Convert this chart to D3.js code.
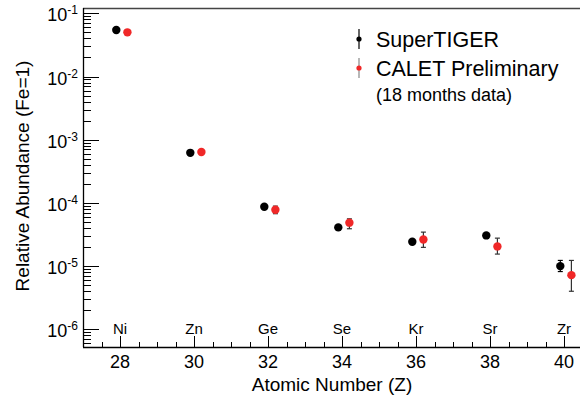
<!DOCTYPE html>
<html><head><meta charset="utf-8">
<script src="https://cdn.jsdelivr.net/npm/d3@7"></script>
<style>
html,body{margin:0;padding:0;background:#fff;}
svg{display:block;font-family:"Liberation Sans",Arial,Helvetica,sans-serif;}
</style></head>
<body><svg id="c" width="580" height="398"></svg>
<script>
// ---- data ----
const elements = ["Ni","Zn","Ge","Se","Kr","Sr","Zr"];
const atomicZ = [28,30,32,34,36,38,40];
const superTiger = [5.45e-2, 6.2e-4, 8.7e-5, 4.1e-5, 2.43e-5, 3.06e-5, 1.0e-5];
const superTigerLo = [null, null, null, null, null, null, 8.2e-6];
const superTigerHi = [null, null, null, null, null, null, 1.23e-5];
const calet = [5.0e-2, 6.4e-4, 7.8e-5, 4.87e-5, 2.64e-5, 2.05e-5, 7.2e-6];
const caletLo = [null, null, 6.75e-5, 3.9e-5, 1.98e-5, 1.55e-5, 4.0e-6];
const caletHi = [null, null, 8.9e-5, 5.6e-5, 3.45e-5, 2.77e-5, 1.23e-5];
const xTickValues = [28,30,32,34,36,38,40];
const yTickExponents = [-1,-2,-3,-4,-5,-6];

// ---- layout ----
const svg = d3.select("#c");
const L = 83, R = 582.5, T = 8, B = 347;
const x = d3.scaleLinear().domain([27, 40.5]).range([L, R]);
const y = d3.scaleLog().domain([5.25e-7, 0.1213]).range([B, T]);
const offBlack = -0.1, offRed = 0.2;

// frame
svg.append("line").attr("x1",L).attr("x2",580).attr("y1",T+0.5).attr("y2",T+0.5).attr("stroke","#444").attr("stroke-width",1.3);
svg.append("line").attr("x1",L+0.5).attr("x2",L+0.5).attr("y1",T).attr("y2",B).attr("stroke","#000").attr("stroke-width",1.3);
svg.append("line").attr("x1",L).attr("x2",580).attr("y1",B+0.5).attr("y2",B+0.5).attr("stroke","#000").attr("stroke-width",1.3);

// y ticks (log)
const yMinor = [];
for (let e = -7; e <= -1; e++) for (let m = 2; m <= 9; m++) {
  const v = m * Math.pow(10, e);
  if (v >= y.domain()[0] && v <= y.domain()[1]) yMinor.push(v);
}
const yMajor = yTickExponents.map(e => Math.pow(10, e));
const gy = svg.append("g");
gy.selectAll("line.mi").data(yMinor).enter().append("line")
  .attr("x1",L).attr("x2",L+8).attr("y1",d=>Math.round(y(d))+0.5).attr("y2",d=>Math.round(y(d))+0.5)
  .attr("stroke","#000").attr("stroke-width",1);
gy.selectAll("line.ma").data(yMajor).enter().append("line")
  .attr("x1",L).attr("x2",L+16).attr("y1",d=>Math.round(y(d))+0.5).attr("y2",d=>Math.round(y(d))+0.5)
  .attr("stroke","#000").attr("stroke-width",1);
const yl = gy.selectAll("text.yl").data(yTickExponents).enter().append("text")
  .attr("x",78).attr("y",d=>y(Math.pow(10,d))+8)
  .attr("text-anchor","end").attr("font-size",18).attr("fill","#000");
yl.append("tspan").text("10");
yl.append("tspan").attr("dy",-7).attr("font-size",12).text(d=>"-"+(-d));

// x ticks
const xMinor = d3.range(27, 40.51, 0.5);
const gx = svg.append("g");
gx.selectAll("line.mi").data(xMinor).enter().append("line")
  .attr("x1",d=>Math.round(x(d))+0.5).attr("x2",d=>Math.round(x(d))+0.5).attr("y1",B).attr("y2",B-5)
  .attr("stroke","#000").attr("stroke-width",1);
gx.selectAll("line.ma").data(xTickValues).enter().append("line")
  .attr("x1",d=>Math.round(x(d))+0.5).attr("x2",d=>Math.round(x(d))+0.5).attr("y1",B).attr("y2",B-11)
  .attr("stroke","#000").attr("stroke-width",1);
gx.selectAll("text.xl").data(xTickValues).enter().append("text")
  .attr("x",d=>x(d)).attr("y",368).attr("text-anchor","middle").attr("font-size",18).text(d=>d);

// element labels
svg.selectAll("text.el").data(elements).enter().append("text")
  .attr("x",(d,i)=>x(atomicZ[i])).attr("y",334).attr("text-anchor","middle").attr("font-size",15).text(d=>d);

// axis titles
svg.append("text").attr("x",332).attr("y",391).attr("text-anchor","middle").attr("font-size",19)
  .text("Atomic Number (Z)");
svg.append("text").attr("transform","translate(29,176) rotate(-90)").attr("text-anchor","middle").attr("font-size",19)
  .text("Relative Abundance (Fe=1)");

// series drawing
function series(vals, lo, hi, off, color, barColor) {
  const g = svg.append("g");
  const idx = d3.range(vals.length);
  const eb = idx.filter(i => lo[i] != null);
  g.selectAll("line.v").data(eb).enter().append("line")
    .attr("x1",i=>x(atomicZ[i]+off)).attr("x2",i=>x(atomicZ[i]+off))
    .attr("y1",i=>y(lo[i])).attr("y2",i=>y(hi[i])).attr("stroke",barColor).attr("stroke-width",1.2);
  [lo, hi].forEach(arr => {
    g.selectAll(null).data(eb).enter().append("line")
      .attr("x1",i=>x(atomicZ[i]+off)-2.5).attr("x2",i=>x(atomicZ[i]+off)+2.5)
      .attr("y1",i=>y(arr[i])).attr("y2",i=>y(arr[i])).attr("stroke",barColor).attr("stroke-width",1.2);
  });
  g.selectAll("circle").data(idx).enter().append("circle")
    .attr("cx",i=>x(atomicZ[i]+off)).attr("cy",i=>y(vals[i])).attr("r",4.2).attr("fill",color);
}
series(superTiger, superTigerLo, superTigerHi, offBlack, "#000", "#000");
series(calet, caletLo, caletHi, offRed, "#f02828", "#333");

// legend
const leg = svg.append("g");
const legItems = [{label:"SuperTIGER", color:"#000", line:"#000", y:39},
                  {label:"CALET Preliminary", color:"#f02828", line:"#888", y:68}];
legItems.forEach(it => {
  leg.append("line").attr("x1",359).attr("x2",359).attr("y1",it.y-10).attr("y2",it.y+10).attr("stroke",it.line).attr("stroke-width",1.2);
  leg.append("circle").attr("cx",359).attr("cy",it.y).attr("r",2.6).attr("fill",it.color);
  leg.append("text").attr("x",376).attr("y",it.y+7.5).attr("font-size",21.5).text(it.label);
});
leg.append("text").attr("x",376).attr("y",101).attr("font-size",18).text("(18 months data)");
</script></body></html>
